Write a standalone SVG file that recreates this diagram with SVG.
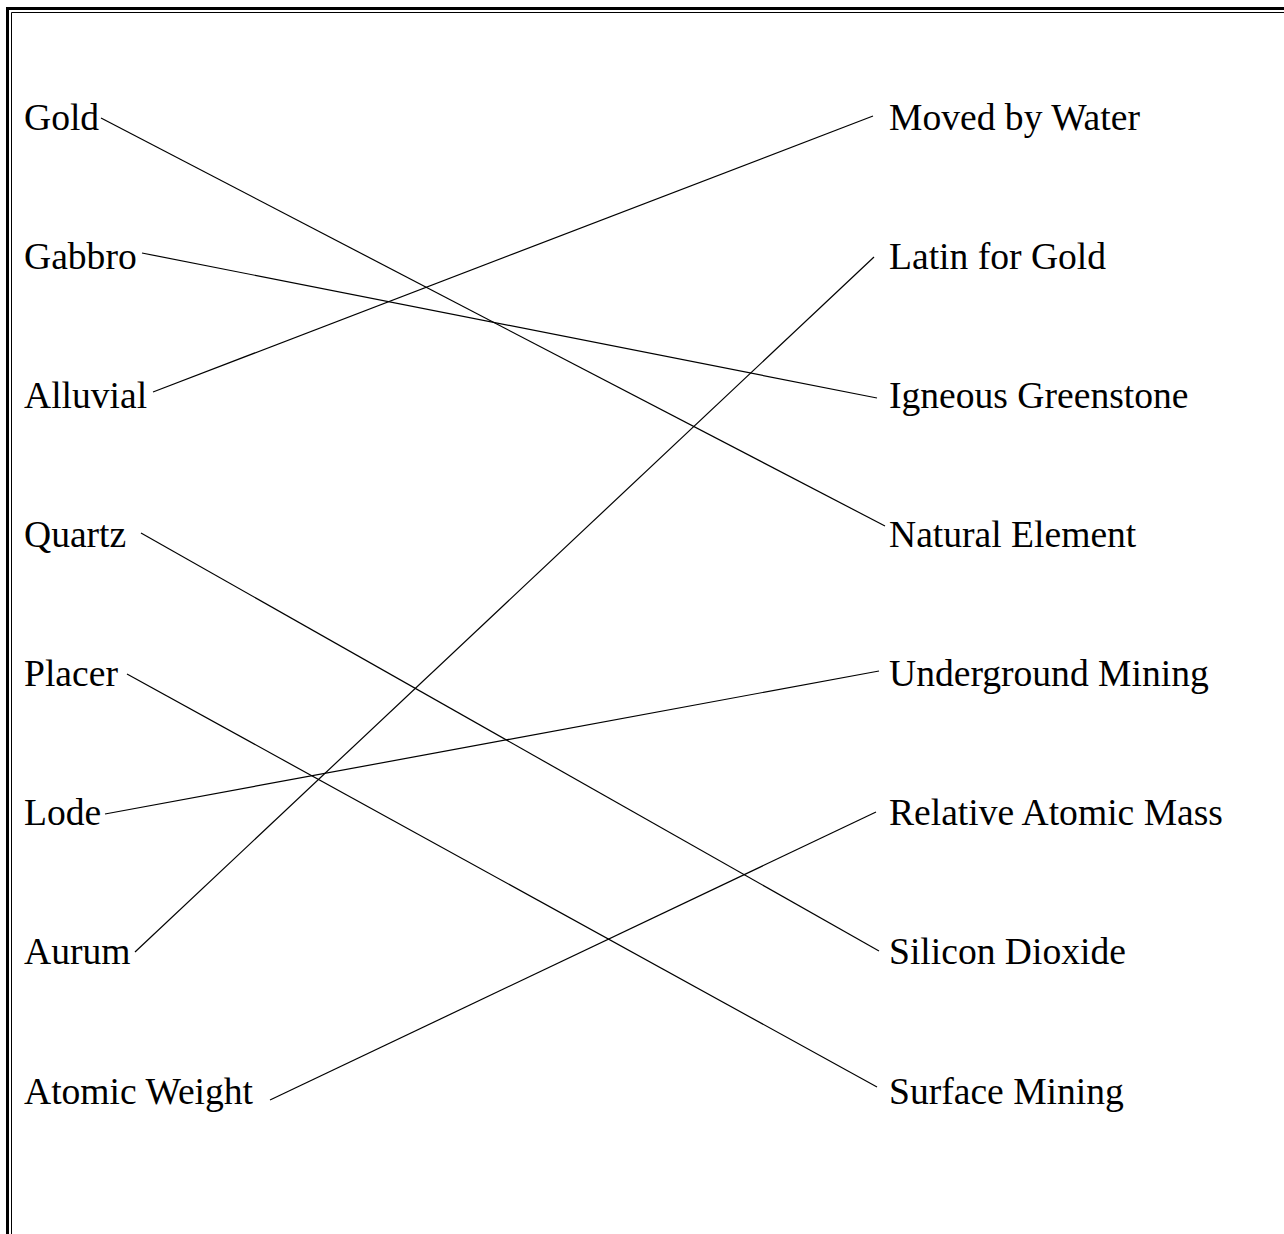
<svg xmlns="http://www.w3.org/2000/svg" width="1284" height="1234" viewBox="0 0 1284 1234">
<style>
.lbl{font-family:"Liberation Serif","Times New Roman",serif;font-size:37.6px;fill:#000}
.conn{stroke:#000;stroke-width:1.2;fill:none}
.frame{stroke:#000;fill:none}
</style>
<rect x="0" y="0" width="1284" height="1234" fill="#fff"/>
<g id="frame">
<polyline class="frame" stroke-width="3" points="7.5,1300 7.5,8.5 1300,8.5"/>
<polyline class="frame" stroke-width="1" points="11.5,1300 11.5,12.5 1300,12.5"/>
</g>
<g id="connectors">
<line class="conn" x1="101" y1="118" x2="885" y2="526"/>
<line class="conn" x1="142" y1="253" x2="877" y2="398"/>
<line class="conn" x1="153" y1="392" x2="873" y2="116"/>
<line class="conn" x1="141" y1="533" x2="879" y2="951"/>
<line class="conn" x1="127" y1="674" x2="877" y2="1087"/>
<line class="conn" x1="105" y1="814" x2="879" y2="671"/>
<line class="conn" x1="135" y1="952" x2="874" y2="257"/>
<line class="conn" x1="270" y1="1100" x2="876" y2="812"/>
</g>
<g id="left-gold"><text class="lbl" x="24" y="129.5">Gold</text></g>
<g id="left-gabbro"><text class="lbl" x="24" y="268.5">Gabbro</text></g>
<g id="left-alluvial"><text class="lbl" x="24" y="407.5">Alluvial</text></g>
<g id="left-quartz"><text class="lbl" x="24" y="546.5">Quartz</text></g>
<g id="left-placer"><text class="lbl" x="24" y="685.5">Placer</text></g>
<g id="left-lode"><text class="lbl" x="24" y="824.5">Lode</text></g>
<g id="left-aurum"><text class="lbl" x="24" y="963.5">Aurum</text></g>
<g id="left-atomic-weight"><text class="lbl" x="24" y="1103.5">Atomic Weight</text></g>
<g id="right-moved-by-water"><text class="lbl" x="889" y="129.5">Moved by Water</text></g>
<g id="right-latin-for-gold"><text class="lbl" x="889" y="268.5">Latin for Gold</text></g>
<g id="right-igneous-greenstone"><text class="lbl" x="889" y="407.5">Igneous Greenstone</text></g>
<g id="right-natural-element"><text class="lbl" x="889" y="546.5">Natural Element</text></g>
<g id="right-underground-mining"><text class="lbl" x="889" y="685.5">Underground Mining</text></g>
<g id="right-relative-atomic-mass"><text class="lbl" x="889" y="824.5">Relative Atomic Mass</text></g>
<g id="right-silicon-dioxide"><text class="lbl" x="889" y="963.5">Silicon Dioxide</text></g>
<g id="right-surface-mining"><text class="lbl" x="889" y="1103.5">Surface Mining</text></g>
</svg>
